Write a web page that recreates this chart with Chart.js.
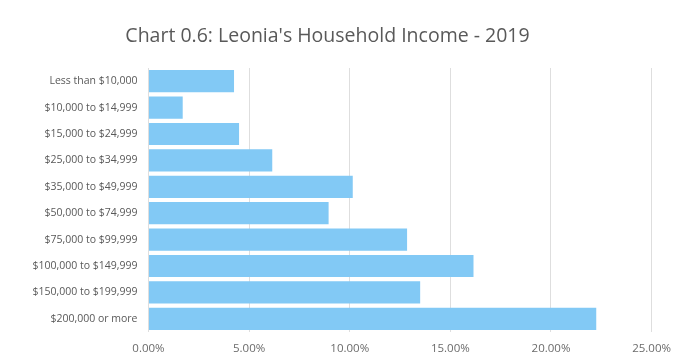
<!DOCTYPE html>
<html>
<head>
<meta charset="utf-8">
<script src="https://cdn.jsdelivr.net/npm/chart.js@4/dist/chart.umd.min.js"></script>
<style>
  html, body { margin: 0; padding: 0; background: #ffffff; }
  #wrap { width: 681px; height: 362px; position: relative; }
</style>
</head>
<body>
<div id="wrap"><canvas id="c" width="681" height="362"></canvas></div>
<script>
const chartTitle = "Chart 0.6: Leonia's Household Income - 2019";
const categories = [
  "Less than $10,000",
  "$10,000 to $14,999",
  "$15,000 to $24,999",
  "$25,000 to $34,999",
  "$35,000 to $49,999",
  "$50,000 to $74,999",
  "$75,000 to $99,999",
  "$100,000 to $149,999",
  "$150,000 to $199,999",
  "$200,000 or more"
];
const shares = [4.25, 1.7, 4.5, 6.15, 10.15, 8.95, 12.85, 16.15, 13.5, 22.25];
const tickValues = [0, 5, 10, 15, 20, 25];

new Chart(document.getElementById('c'), {
  type: 'bar',
  data: {
    labels: categories,
    datasets: [{
      data: shares,
      backgroundColor: '#82c9f5',
      borderWidth: 0,
      categoryPercentage: 1.0,
      barPercentage: 0.84
    }]
  },
  options: {
    indexAxis: 'y',
    responsive: false,
    animation: false,
    layout: { padding: { left: 0, right: 26, top: 0, bottom: 0 } },
    plugins: {
      legend: { display: false },
      tooltip: { enabled: false },
      title: {
        display: true,
        text: chartTitle,
        color: '#595959',
        font: { family: 'Open Sans', size: 19.5, weight: 'normal' },
        padding: { top: 25, bottom: 19.6 }
      }
    },
    scales: {
      x: {
        min: 0,
        max: 25,
        afterBuildTicks: (scale) => { scale.ticks = tickValues.map(v => ({ value: v })); },
        afterFit: (scale) => { scale.height = 30; },
        border: { display: false },
        grid: { color: '#dedede', lineWidth: 1, drawTicks: false },
        ticks: {
          padding: 10,
          color: '#6b6b6b',
          font: { family: 'Open Sans', size: 11.5 },
          callback: (v) => Number(v).toFixed(2) + '%'
        }
      },
      y: {
        afterFit: (scale) => { scale.width = 148.5; },
        border: { display: false },
        grid: { display: false, drawTicks: false },
        ticks: {
          padding: 11,
          color: '#595959',
          font: { family: 'Open Sans', size: 10.5 }
        }
      }
    }
  }
});
</script>
</body>
</html>
